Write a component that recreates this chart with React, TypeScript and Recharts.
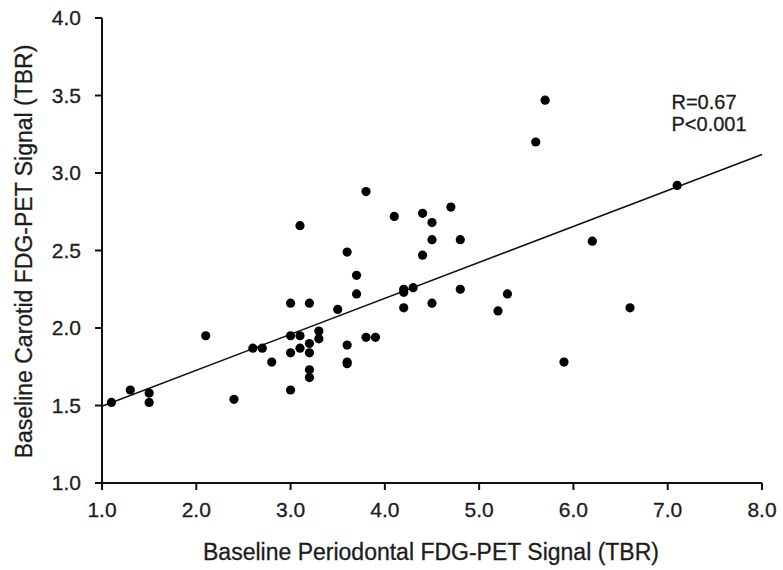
import React from "react";
import {
  ScatterChart,
  Scatter,
  XAxis,
  YAxis,
  ReferenceLine,
  ReferenceDot,
} from "recharts";

const periodontalTBR = [
  1.1, 1.3, 1.5, 1.5, 2.1, 2.4, 2.6, 2.7, 2.8, 3.0, 3.0, 3.0, 3.0, 3.1, 3.1,
  3.1, 3.2, 3.2, 3.2, 3.2, 3.2, 3.3, 3.3, 3.5, 3.6, 3.6, 3.6, 3.6, 3.7, 3.7,
  3.8, 3.8, 3.9, 4.1, 4.2, 4.2, 4.2, 4.3, 4.4, 4.4, 4.5, 4.5, 4.5, 4.7, 4.8,
  4.8, 5.2, 5.3, 5.6, 5.7, 5.9, 6.2, 6.6, 7.1,
];
const carotidTBR = [
  1.52, 1.6, 1.58, 1.52, 1.95, 1.54, 1.87, 1.87, 1.78, 2.16, 1.95, 1.84, 1.6,
  2.66, 1.95, 1.87, 2.16, 1.9, 1.84, 1.73, 1.68, 1.98, 1.93, 2.12, 2.49, 1.89,
  1.78, 1.77, 2.34, 2.22, 2.88, 1.94, 1.94, 2.72, 2.25, 2.23, 2.13, 2.26, 2.74,
  2.47, 2.68, 2.57, 2.16, 2.78, 2.57, 2.25, 2.11, 2.22, 3.2, 3.47, 1.78, 2.56,
  2.13, 2.92,
];
const fitX = [1.0, 8.0];
const fitY = [1.495, 3.12];
const xTicks = [1, 2, 3, 4, 5, 6, 7, 8];
const yTicks = [1.0, 1.5, 2.0, 2.5, 3.0, 3.5, 4.0];
const xTitle = "Baseline Periodontal FDG-PET Signal (TBR)";
const yTitle = "Baseline Carotid FDG-PET Signal (TBR)";
const statLines = ["R=0.67", "P<0.001"];
const statAnchor = { x: 7.04, y: 3.41 };

const points = periodontalTBR.map((x, i) => ({ x, y: carotidTBR[i] }));

const FONT = "'Liberation Sans', Arial, Helvetica, sans-serif";
const TEXT = "#1c1c1c";

const YTitle = (props: any) => {
  const vb = props.viewBox || {};
  const cy = vb.y + vb.height / 2 + 1;
  const cx = 24;
  return (
    <text
      x={cx}
      y={cy}
      transform={`rotate(-90, ${cx}, ${cy})`}
      textAnchor="middle"
      dominantBaseline="central"
      fontFamily={FONT}
      fontSize={23}
      fill={TEXT}
      stroke={TEXT}
      strokeWidth={0.3}
    >
      {yTitle}
    </text>
  );
};

const XTitle = (props: any) => {
  const vb = props.viewBox || {};
  const cx = vb.x + vb.width / 2 - 1;
  return (
    <text
      x={cx}
      y={560}
      textAnchor="middle"
      fontFamily={FONT}
      fontSize={23}
      fill={TEXT}
      stroke={TEXT}
      strokeWidth={0.3}
    >
      {xTitle}
    </text>
  );
};

const StatLabel = (props: any) => {
  const vb = props.viewBox || {};
  return (
    <text fontFamily={FONT} fontSize={20} fill={TEXT} stroke={TEXT} strokeWidth={0.3}>
      {statLines.map((s, i) => (
        <tspan key={s} x={vb.x} y={vb.y + i * 22}>
          {s}
        </tspan>
      ))}
    </text>
  );
};

const tickStyle = { fontFamily: FONT, fontSize: 21, fill: TEXT, stroke: TEXT, strokeWidth: 0.3 };

export default function App() {
  return (
    <div style={{ position: "absolute", left: 0, top: 0, width: 783, height: 570, background: "#fff" }}>
      <ScatterChart
        width={783}
        height={570}
        margin={{ top: 18, right: 21, left: 0, bottom: 0 }}
      >
        <XAxis
          type="number"
          dataKey="x"
          domain={[1, 8]}
          ticks={xTicks}
          tickFormatter={(v: number) => v.toFixed(1)}
          height={87}
          stroke="#111"
          strokeWidth={2}
          tickSize={7}
          tickMargin={12}
          tick={tickStyle}
          allowDataOverflow
          label={<XTitle />}
        />
        <YAxis
          type="number"
          dataKey="y"
          domain={[1, 4]}
          ticks={yTicks}
          tickFormatter={(v: number) => v.toFixed(1)}
          width={102}
          stroke="#111"
          strokeWidth={2}
          tickSize={7}
          tickMargin={14}
          tick={tickStyle}
          allowDataOverflow
          label={<YTitle />}
        />
        <ReferenceLine
          segment={[
            { x: fitX[0], y: fitY[0] },
            { x: fitX[1], y: fitY[1] },
          ]}
          stroke="#111"
          strokeWidth={1.6}
        />
        <Scatter
          data={points}
          fill="#000"
          isAnimationActive={false}
          shape={(p: any) => <circle cx={p.cx} cy={p.cy} r={4.6} fill="#000" />}
        />
        <ReferenceDot
          x={statAnchor.x}
          y={statAnchor.y}
          r={0}
          stroke="none"
          fill="none"
          label={<StatLabel />}
        />
      </ScatterChart>
    </div>
  );
}
